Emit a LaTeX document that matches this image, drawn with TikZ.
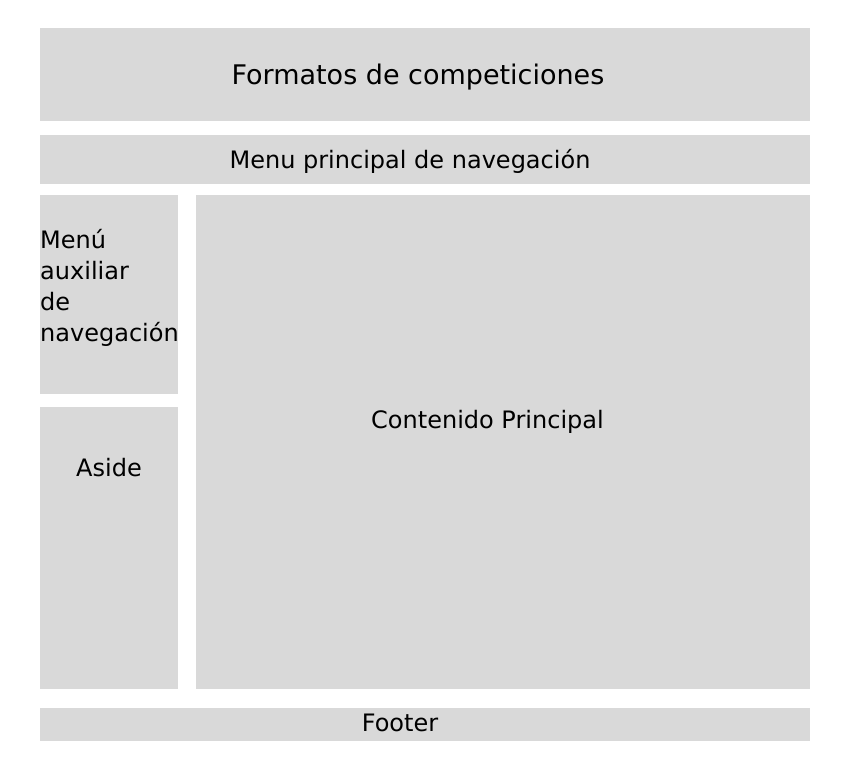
\documentclass[tikz,border=0pt]{standalone}
\usepackage{fontspec}
\setmainfont{DejaVu Sans}
\definecolor{grisbloque}{HTML}{D9D9D9}

\tikzset{
  bloque/.style={fill=grisbloque, draw=none, inner sep=0pt, outer sep=0pt, anchor=north west},
  etiqueta/.style={text=black, inner sep=0pt, font=\fontsize{24}{29}\selectfont},
}

\begin{document}
\begin{tikzpicture}[x=1pt, y=-1pt]
  % Marco de la imagen
  \useasboundingbox (0,0) rectangle (861,770);

  % Bloques de la maqueta
  \node[bloque, minimum width=770pt, minimum height=93pt] (cabecera) at (40,28) {};
  \node[bloque, minimum width=770pt, minimum height=49pt] (menu) at (40,135) {};
  \node[bloque, minimum width=138pt, minimum height=199pt] (auxiliar) at (40,195) {};
  \node[bloque, minimum width=138pt, minimum height=282pt] (aside) at (40,407) {};
  \node[bloque, minimum width=614pt, minimum height=494pt] (contenido) at (196,195) {};
  \node[bloque, minimum width=770pt, minimum height=33pt] (footer) at (40,708) {};

  % Textos
  \node[etiqueta, anchor=base, font=\fontsize{27}{32}\selectfont] (tcabecera) at (418,85) {Formatos de competiciones};
  \node[etiqueta, anchor=base] (tmenu) at (410,168) {Menu principal de navegación};
  \node[etiqueta, anchor=north west, align=left, font=\fontsize{24}{31}\selectfont] (tauxiliar) at (40,229) {Menú\\auxiliar\\de\\navegación};
  \node[etiqueta, anchor=base] (taside) at (109,476) {Aside};
  \node[etiqueta, anchor=base] (tcontenido) at (487.5,428) {Contenido Principal};
  \node[etiqueta, anchor=base] (tfooter) at (400,731) {Footer};
\end{tikzpicture}
\end{document}
